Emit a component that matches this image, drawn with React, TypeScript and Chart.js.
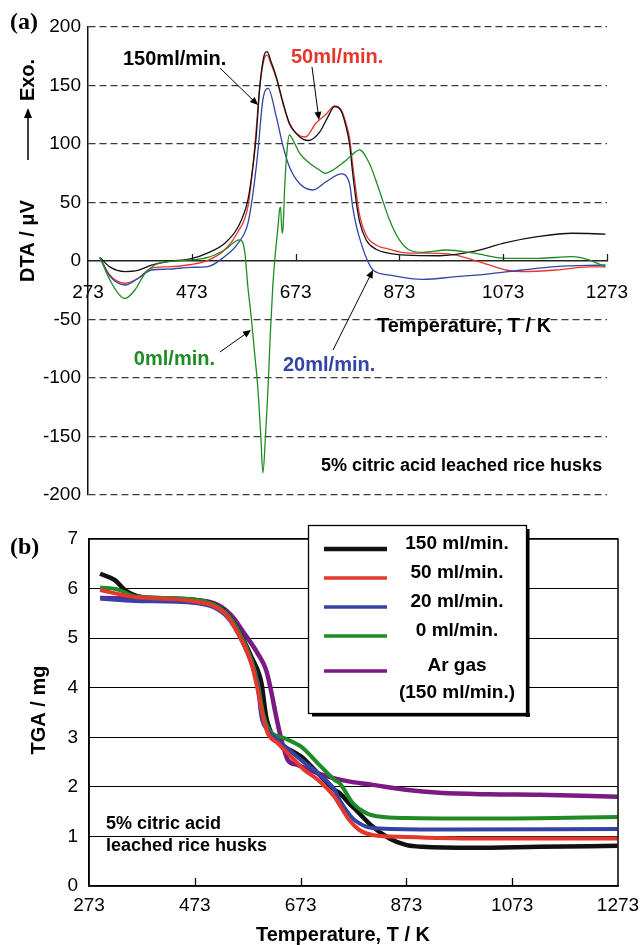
import React, { useEffect, useRef } from "react";
import { Chart, registerables } from "chart.js";

Chart.register(...registerables);

const FONT = "'Liberation Sans', Arial, Helvetica, sans-serif";
const SERIF = "'Liberation Serif', 'Times New Roman', serif";

// ---------- shared ----------
const xTickValues = [273, 473, 673, 873, 1073, 1273];

// ---------- (a) DTA ----------
const dtaYTicks = [-200, -150, -100, -50, 0, 50, 100, 150, 200];

const dta150T = [296, 315, 344, 369, 395, 427, 472, 504, 536, 562, 581, 590, 597, 604, 612, 618, 626, 636, 649, 661, 681, 697, 719, 735, 748, 761, 770, 777, 783, 790, 796, 809, 828, 854, 886, 950, 1014, 1078, 1142, 1206, 1270];
const dta150V = [3, -5, -9, -8, -3.5, -0.5, 2, 7, 15, 29, 52, 78, 106, 149, 175, 179, 170, 157, 135, 118, 106, 103, 110, 123, 132, 128, 115, 100, 75, 50, 34, 18, 10, 6.5, 5, 4.5, 8, 15.7, 21, 23.7, 23];

const dta50T = [296, 315, 344, 369, 395, 427, 472, 504, 536, 562, 581, 590, 597, 604, 612, 618, 626, 636, 649, 661, 681, 692, 712, 732, 748, 761, 770, 777, 783, 790, 796, 809, 828, 854, 886, 950, 982, 1014, 1046, 1078, 1110, 1174, 1238, 1270];
const dta50V = [3, -12, -19, -15, -6, -5, -3, 0.5, 9.4, 25, 46, 78, 112, 149, 172, 176, 168, 156, 134, 117, 107, 106, 117.7, 125.6, 132.5, 129, 118, 105, 82, 58, 40, 22, 13.7, 10, 7, 6.5, 5, 1, -3.4, -7.7, -9, -7.7, -5, -5];

const dta20T = [296, 315, 344, 369, 395, 427, 472, 504, 536, 562, 581, 590, 600, 609, 613, 620, 636, 649, 661, 681, 706, 732, 761, 777, 783, 790, 796, 809, 822, 854, 918, 982, 1046, 1110, 1174, 1270];
const dta20V = [3, -13, -20.5, -15, -7.7, -7, -5.4, -4.8, 3.7, 15, 32, 55, 92, 135, 144, 147.6, 123, 97.7, 80.6, 66, 60.7, 67.8, 74.4, 66, 46, 30, 20, 3, -7.7, -12, -15.7, -13.4, -11, -7.7, -4.8, -3.4];

const dta0T = [296, 312, 331, 344, 363, 383, 402, 427, 472, 504, 536, 565, 575, 581, 588, 594, 600, 606, 610, 615, 620, 624, 629, 634, 639, 642, 644, 647, 649, 652, 656, 661, 671, 681, 700, 719, 729, 745, 770, 785, 796, 815, 834, 854, 873, 892, 918, 963, 1014, 1078, 1142, 1206, 1238, 1270];
const dta0V = [3, -13.4, -27.6, -32, -25, -10.5, -3.4, -0.5, 0.9, 3, 9.4, 18, 8, -22, -50, -79, -107, -150, -181, -150, -107, -65, -22, 6.5, 29, 43.6, 46, 23.6, 29, 63.5, 92, 107.7, 100.6, 92, 83.5, 77.8, 75, 77.8, 86, 92, 95, 83.5, 60.7, 35, 18, 9.4, 7.4, 9.4, 7, 2.3, 2.3, 3.7, 1, -5];

// ---------- (b) TGA ----------
const tgaYTicks = [0, 1, 2, 3, 4, 5, 6, 7];

const tga150T = [294, 322, 341, 372, 423, 473, 504, 530, 555, 580, 599, 608, 621, 643, 674, 706, 737, 747, 769, 778, 809, 841, 872, 904, 998, 1124, 1272];
const tga150V = [6.3, 6.17, 5.97, 5.83, 5.8, 5.77, 5.7, 5.53, 5.16, 4.62, 4.09, 3.41, 3.01, 2.81, 2.61, 2.27, 1.94, 1.87, 1.62, 1.53, 1.2, 0.96, 0.83, 0.79, 0.77, 0.79, 0.81];

const tga50T = [294, 360, 473, 530, 555, 580, 592, 602, 611, 630, 655, 680, 706, 737, 747, 765, 784, 809, 872, 1000, 1272];
const tga50V = [5.97, 5.83, 5.74, 5.5, 5.09, 4.49, 3.95, 3.41, 3.08, 2.88, 2.61, 2.34, 2.14, 1.8, 1.63, 1.33, 1.13, 1.03, 0.99, 0.96, 0.96];

const tga20T = [294, 360, 473, 530, 555, 580, 592, 599, 611, 630, 674, 706, 737, 747, 772, 797, 822, 935, 1272];
const tga20V = [5.8, 5.75, 5.71, 5.47, 5.09, 4.49, 4.02, 3.41, 3.14, 2.94, 2.54, 2.27, 1.94, 1.73, 1.36, 1.2, 1.16, 1.14, 1.15];

const tga0T = [294, 328, 360, 473, 530, 555, 580, 592, 602, 614, 643, 674, 706, 737, 747, 772, 797, 822, 872, 1000, 1272];
const tga0V = [6.02, 5.98, 5.84, 5.78, 5.53, 5.16, 4.56, 4.09, 3.48, 3.14, 2.98, 2.81, 2.47, 2.14, 2.07, 1.67, 1.47, 1.4, 1.37, 1.36, 1.39];

const tgaArT = [294, 360, 473, 517, 542, 567, 592, 608, 617, 627, 637, 649, 668, 706, 737, 769, 809, 872, 935, 1030, 1124, 1272];
const tgaArV = [5.81, 5.8, 5.77, 5.67, 5.46, 5.09, 4.69, 4.35, 3.95, 3.41, 2.94, 2.54, 2.44, 2.27, 2.17, 2.1, 2.04, 1.94, 1.88, 1.85, 1.84, 1.8];

const BLACK = "#111111";
const RED = "#e5372c";
const BLUE = "#3444a6";
const GREEN = "#1f8b24";
const PURPLE = "#7c1a83";

const pts = (t: number[], v: number[]) => t.map((x, i) => ({ x, y: v[i] }));

function text(ctx: CanvasRenderingContext2D, s: string, x: number, y: number, font: string, color = "#000", align: CanvasTextAlign = "left", rot = 0) {
  ctx.save();
  ctx.font = font;
  ctx.fillStyle = color;
  ctx.textAlign = align;
  ctx.textBaseline = "middle";
  ctx.translate(x, y);
  if (rot) ctx.rotate(rot);
  ctx.fillText(s, 0, 0);
  ctx.restore();
}

function arrow(ctx: CanvasRenderingContext2D, x1: number, y1: number, x2: number, y2: number, lw = 1, L = 8, W = 3.5) {
  ctx.save();
  ctx.strokeStyle = "#000";
  ctx.fillStyle = "#000";
  ctx.lineWidth = lw;
  const a = Math.atan2(y2 - y1, x2 - x1);
  ctx.beginPath();
  ctx.moveTo(x1, y1);
  ctx.lineTo(x2 - (L - 1) * Math.cos(a), y2 - (L - 1) * Math.sin(a));
  ctx.stroke();
  ctx.beginPath();
  ctx.moveTo(x2, y2);
  ctx.lineTo(x2 - L * Math.cos(a) + W * Math.sin(a), y2 - L * Math.sin(a) - W * Math.cos(a));
  ctx.lineTo(x2 - L * Math.cos(a) - W * Math.sin(a), y2 - L * Math.sin(a) + W * Math.cos(a));
  ctx.closePath();
  ctx.fill();
  ctx.restore();
}

const dtaPlugin = {
  id: "dtaDecor",
  afterDraw(chart: any) {
    const ctx = chart.ctx as CanvasRenderingContext2D;
    const xs = chart.scales.x;
    const ys = chart.scales.y;
    const y0 = ys.getPixelForValue(0);
    // inward tick marks
    ctx.save();
    ctx.strokeStyle = "#222";
    ctx.lineWidth = 1.3;
    xTickValues.slice(1).forEach((v) => {
      const px = Math.round(xs.getPixelForValue(v)) + 0.5;
      ctx.beginPath();
      ctx.moveTo(px, y0);
      ctx.lineTo(px, y0 - 7);
      ctx.stroke();
    });
    ctx.restore();

    text(ctx, "(a)", 10, 23, `bold 24px ${SERIF}`);
    text(ctx, "DTA / \u03bcV", 28, 241, `bold 20px ${FONT}`, "#000", "center", -Math.PI / 2);
    text(ctx, "Exo.", 28, 80, `bold 20px ${FONT}`, "#000", "center", -Math.PI / 2);
    arrow(ctx, 28, 160, 28, 108, 1.5, 10, 4);

    text(ctx, "150ml/min.", 123, 59, `bold 20px ${FONT}`, "#000");
    text(ctx, "50ml/min.", 291, 57, `bold 20px ${FONT}`, RED);
    text(ctx, "0ml/min.", 215, 359, `bold 20px ${FONT}`, GREEN, "right");
    text(ctx, "20ml/min.", 283, 365, `bold 20px ${FONT}`, BLUE);
    text(ctx, "Temperature, T / K", 377, 326, `bold 20px ${FONT}`);
    text(ctx, "5% citric acid leached rice husks", 321, 466, `bold 18px ${FONT}`);

    arrow(ctx, 220, 68, 258, 105);
    arrow(ctx, 312, 67, 319, 120);
    arrow(ctx, 220, 352, 251, 330);
    arrow(ctx, 333, 350, 373, 270);
  },
};

const tgaPlugin = {
  id: "tgaDecor",
  afterDraw(chart: any) {
    const ctx = chart.ctx as CanvasRenderingContext2D;
    const a = chart.chartArea;
    const xs = chart.scales.x;
    ctx.save();
    ctx.strokeStyle = "#000";
    ctx.lineWidth = 1.5;
    ctx.strokeRect(a.left, a.top, a.right - a.left, a.bottom - a.top);
    ctx.lineWidth = 1.3;
    xTickValues.slice(1, -1).forEach((v) => {
      const px = Math.round(xs.getPixelForValue(v)) + 0.5;
      ctx.beginPath();
      ctx.moveTo(px, a.bottom);
      ctx.lineTo(px, a.bottom - 8);
      ctx.stroke();
    });
    ctx.restore();

    text(ctx, "(b)", 10, 48, `bold 24px ${SERIF}`);
    text(ctx, "TGA / mg", 39, 210, `bold 20px ${FONT}`, "#000", "center", -Math.PI / 2);
    text(ctx, "Temperature, T / K", 343, 435, `bold 20px ${FONT}`, "#000", "center");
    text(ctx, "5% citric acid", 106, 324, `bold 18px ${FONT}`);
    text(ctx, "leached rice husks", 106, 346, `bold 18px ${FONT}`);

    // legend box with shadow
    const L = 308, T = 25, R = 526, B = 213;
    ctx.save();
    ctx.fillStyle = "#000";
    ctx.fillRect(L + 4, B, R - L, 3.5);
    ctx.fillRect(R, T + 4, 3.5, B - T);
    ctx.fillStyle = "#fff";
    ctx.fillRect(L, T, R - L, B - T);
    ctx.strokeStyle = "#000";
    ctx.lineWidth = 1.3;
    ctx.strokeRect(L + 0.5, T + 0.5, R - L, B - T);
    ctx.restore();

    const lineY = [49, 78, 107, 136, 171];
    const order = [3, 0, 1, 2, 4];
    order.forEach((di, k) => {
      const ds = chart.data.datasets[di];
      ctx.save();
      ctx.strokeStyle = ds.borderColor;
      ctx.lineWidth = di === 3 ? 4.5 : 3.5;
      ctx.beginPath();
      ctx.moveTo(324, lineY[k]);
      ctx.lineTo(387, lineY[k]);
      ctx.stroke();
      ctx.restore();
      const lines = String(ds.label).split("\n");
      lines.forEach((s, j) => {
        text(ctx, s, 457, lineY[k] - 5 + j * 27, `bold 19px ${FONT}`, "#000", "center");
      });
    });
  },
};

function dtaConfig(): any {
  const line = (label: string, t: number[], v: number[], c: string) => ({
    label,
    data: pts(t, v),
    borderColor: c,
    backgroundColor: c,
    borderWidth: 1.3,
    pointRadius: 0,
    cubicInterpolationMode: "monotone",
    fill: false,
  });
  return {
    type: "line",
    data: {
      datasets: [
        line("0ml/min.", dta0T, dta0V, GREEN),
        line("20ml/min.", dta20T, dta20V, BLUE),
        line("150ml/min.", dta150T, dta150V, BLACK),
        line("50ml/min.", dta50T, dta50V, RED),
      ],
    },
    options: {
      responsive: false,
      animation: false,
      layout: { padding: { left: 0, top: 27, right: 36, bottom: 5 } },
      plugins: { legend: { display: false }, tooltip: { enabled: false } },
      scales: {
        x: {
          type: "linear",
          min: 273,
          max: 1273,
          position: { y: 0 },
          afterBuildTicks: (s: any) => { s.ticks = xTickValues.map((value) => ({ value })); },
          afterFit: (s: any) => { s.height = 0; s.paddingLeft = 0; s.paddingRight = 0; },
          grid: { display: false, drawTicks: false },
          border: { display: true, color: "#222", width: 1.5 },
          ticks: { padding: 20, color: "#000", font: { family: FONT, size: 19 }, maxRotation: 0, autoSkip: false, callback: (v: any) => String(v) },
        },
        y: {
          type: "linear",
          min: -200,
          max: 200,
          afterBuildTicks: (s: any) => { s.ticks = dtaYTicks.map((value) => ({ value })); },
          afterFit: (s: any) => { s.width = 88; s.paddingTop = 0; s.paddingBottom = 0; },
          grid: {
            drawTicks: false,
            lineWidth: 1.3,
            color: (c: any) => (c.tick && c.tick.value === 0 ? "rgba(0,0,0,0)" : "#3a3a3a"),
          },
          border: { display: true, color: "#111", width: 1.5, dash: [7, 4] },
          ticks: { padding: 7, color: "#000", font: { family: FONT, size: 19 }, callback: (v: any) => String(v) },
        },
      },
    },
    plugins: [dtaPlugin],
  };
}

function tgaConfig(): any {
  const line = (label: string, t: number[], v: number[], c: string, w: number) => ({
    label,
    data: pts(t, v),
    borderColor: c,
    backgroundColor: c,
    borderWidth: w,
    pointRadius: 0,
    cubicInterpolationMode: "monotone",
    fill: false,
  });
  return {
    type: "line",
    data: {
      datasets: [
        line("50 ml/min.", tga50T, tga50V, RED, 4),
        line("20 ml/min.", tga20T, tga20V, BLUE, 4),
        line("0 ml/min.", tga0T, tga0V, GREEN, 4),
        line("150 ml/min.", tga150T, tga150V, BLACK, 4.5),
        line("Ar gas\n(150 ml/min.)", tgaArT, tgaArV, PURPLE, 4.5),
      ],
    },
    options: {
      responsive: false,
      animation: false,
      layout: { padding: { left: 0, top: 39, right: 25, bottom: 0 } },
      plugins: { legend: { display: false }, tooltip: { enabled: false } },
      scales: {
        x: {
          type: "linear",
          min: 273,
          max: 1273,
          position: "bottom",
          afterBuildTicks: (s: any) => { s.ticks = xTickValues.map((value) => ({ value })); },
          afterFit: (s: any) => { s.height = 59; s.paddingLeft = 0; s.paddingRight = 0; },
          grid: { display: false, drawTicks: false },
          border: { display: true, color: "#000", width: 1.5 },
          ticks: { padding: 8, color: "#000", font: { family: FONT, size: 19 }, maxRotation: 0, autoSkip: false, callback: (v: any) => String(v) },
        },
        y: {
          type: "linear",
          min: 0,
          max: 7,
          afterBuildTicks: (s: any) => { s.ticks = tgaYTicks.map((value) => ({ value })); },
          afterFit: (s: any) => { s.width = 89; s.paddingTop = 0; s.paddingBottom = 0; },
          grid: { drawTicks: false, lineWidth: 1.1, color: "#000" },
          border: { display: true, color: "#000", width: 1.5 },
          ticks: { padding: 11, color: "#000", font: { family: FONT, size: 19 }, callback: (v: any) => String(v) },
        },
      },
    },
    plugins: [tgaPlugin],
  };
}

function ChartCanvas({ make, width, height, top }: { make: () => any; width: number; height: number; top: number }) {
  const ref = useRef<HTMLCanvasElement>(null);
  useEffect(() => {
    if (!ref.current) return;
    const chart = new Chart(ref.current, make());
    return () => chart.destroy();
  }, []);
  return (
    <canvas
      ref={ref}
      width={width}
      height={height}
      style={{ position: "absolute", left: 0, top, width, height, display: "block" }}
    />
  );
}

export default function App() {
  return (
    <div style={{ position: "absolute", left: 0, top: 0, width: 643, height: 945, background: "#fff", overflow: "hidden" }}>
      <ChartCanvas make={dtaConfig} width={643} height={500} top={0} />
      <ChartCanvas make={tgaConfig} width={643} height={445} top={500} />
    </div>
  );
}
